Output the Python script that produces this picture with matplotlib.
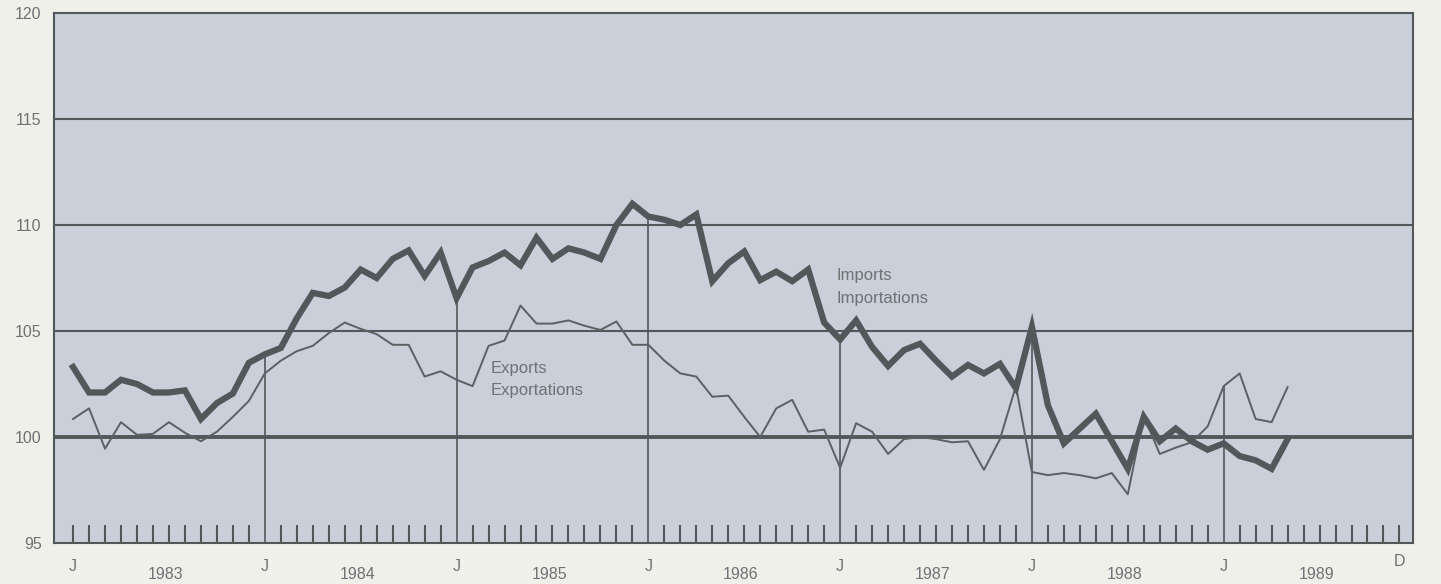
import numpy as np
import matplotlib
matplotlib.use("Agg")
import matplotlib.pyplot as plt

plt.rcParams['font.family'] = ['Liberation Sans', 'DejaVu Sans']

# monthly index values, Jan 1983 = month 0
imports = [103.3, 102.1, 102.1, 102.7, 102.5, 102.1, 102.1, 102.2, 100.85, 101.6, 102.05, 103.5,
           103.9, 104.2, 105.6, 106.8, 106.65, 107.05, 107.9, 107.5, 108.4, 108.8, 107.6, 108.7,
           106.55, 108.0, 108.3, 108.7, 108.1, 109.4, 108.4, 108.9, 108.7, 108.4, 110.0, 111.0,
           110.4, 110.25, 110.0, 110.5, 107.35, 108.2, 108.75, 107.4, 107.8, 107.35, 107.9, 105.4,
           104.6, 105.5, 104.25, 103.35, 104.1, 104.4, 103.6, 102.85, 103.4, 103.0, 103.45, 102.3,
           105.2, 101.5, 99.7, 100.4, 101.1, 99.8, 98.5, 100.95, 99.8, 100.4, 99.8, 99.4,
           99.7, 99.1, 98.9, 98.5, 99.9]
exports = [100.85, 101.35, 99.45, 100.7, 100.1, 100.15, 100.7, 100.2, 99.8, 100.25, 100.95, 101.7,
           103.0, 103.6, 104.05, 104.3, 104.9, 105.4, 105.1, 104.85, 104.35, 104.35, 102.85, 103.1,
           102.7, 102.4, 104.3, 104.55, 106.2, 105.35, 105.35, 105.5, 105.25, 105.05, 105.45, 104.35,
           104.35, 103.6, 103.0, 102.85, 101.9, 101.95, 100.95, 100.0, 101.35, 101.75, 100.25, 100.35,
           98.55, 100.65, 100.25, 99.2, 99.9, 100.0, 99.9, 99.75, 99.8, 98.45, 99.9, 102.4,
           98.35, 98.2, 98.3, 98.2, 98.05, 98.3, 97.3, 101.0, 99.2, 99.5, 99.75, 100.5,
           102.4, 103.0, 100.85, 100.7, 102.35]
years = ['1983', '1984', '1985', '1986', '1987', '1988', '1989']
y_ticks = [95, 100, 105, 110, 115, 120]

months = np.arange(len(imports))
all_months = np.arange(len(years) * 12)
jan = all_months[::12]

line_col = '#52575a'
text_col = '#6e7274'

fig = plt.figure(figsize=(14.41, 5.84), dpi=100)
fig.patch.set_facecolor('#f0f0eb')
ax = fig.add_axes([0.0375, 0.0702, 0.9431, 0.9075])
ax.set_facecolor('#cacfd9')
ax.set_xlim(-1.19, 83.85)
ax.set_ylim(95, 120)

# horizontal rules, the 100 base line heavier
for v in y_ticks[2:-1]:
    ax.axhline(v, color=line_col, lw=1.5, zorder=1)
ax.axhline(100, color=line_col, lw=2.8, zorder=1)

# month ticks along the bottom (January from 1984 on gets a full line instead)
tick_months = [m for m in all_months if m == 0 or m % 12 != 0]
ax.vlines(tick_months, 95, 95.85, color=line_col, lw=1.5, zorder=1)

# January lines up to the higher of the two series
for m in jan[1:]:
    if m < len(imports):
        top = max(imports[m], exports[m])
        ax.vlines(m, 95, top, color=line_col, lw=1.2, zorder=1)

ax.plot(months, exports, color='#5b6064', lw=1.4, zorder=2)
ax.plot(months, imports, color=line_col, lw=4.5, zorder=3, solid_joinstyle='miter')

ax.text(47.75, 107.6, 'Imports', color=text_col, fontsize=12, va='center', ha='left')
ax.text(47.75, 106.55, 'Importations', color=text_col, fontsize=12, va='center', ha='left')
ax.text(26.1, 103.25, 'Exports', color=text_col, fontsize=12, va='center', ha='left')
ax.text(26.1, 102.2, 'Exportations', color=text_col, fontsize=12, va='center', ha='left')

for s in ax.spines.values():
    s.set_color(line_col)
    s.set_linewidth(1.5)

ax.set_xticks([])
ax.set_yticks(y_ticks)
ax.set_yticklabels([str(v) for v in y_ticks], color=text_col, fontsize=11.5)
ax.tick_params(axis='y', length=0, pad=9)

tr = ax.get_xaxis_transform()
for i, yr in enumerate(years):
    ax.text(jan[i], -0.045, 'J', transform=tr, ha='center', va='center',
            color=text_col, fontsize=11.5)
    ax.text(jan[i] + 5.8, -0.06, yr, transform=tr, ha='center', va='center',
            color=text_col, fontsize=11.5)
ax.text(all_months[-1], -0.035, 'D', transform=tr, ha='center', va='center',
        color=text_col, fontsize=11.5)

fig.savefig('out.png', dpi=100, facecolor=fig.get_facecolor())
